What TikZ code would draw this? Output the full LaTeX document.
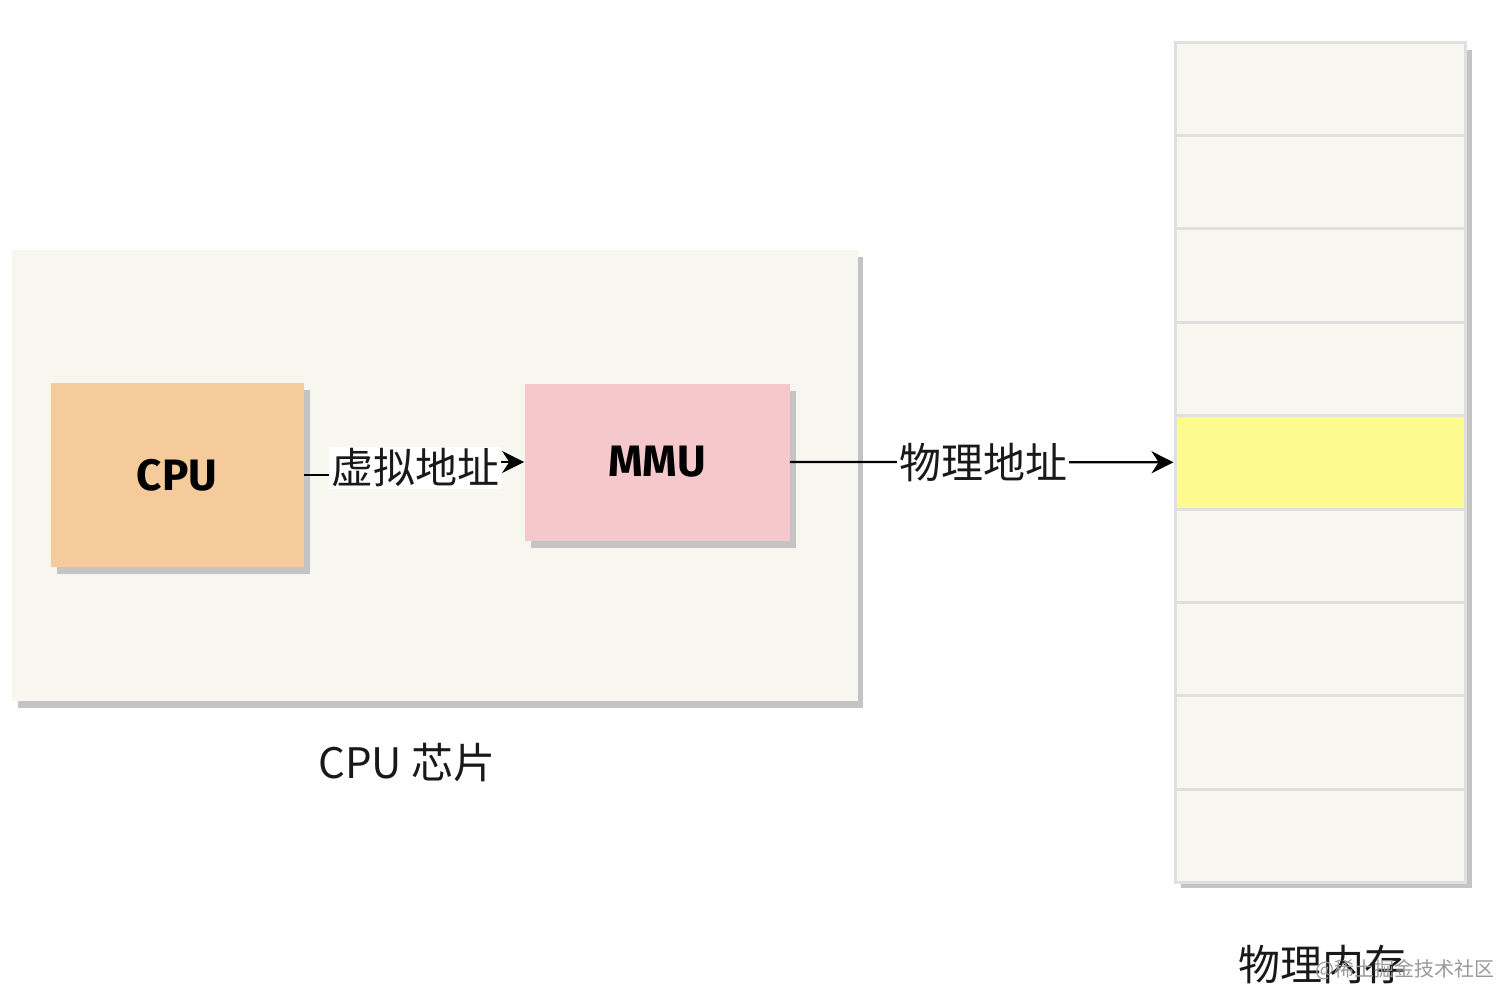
\documentclass[tikz,border=0pt]{standalone}
\usepackage{fontspec}
\setmainfont{Noto Sans CJK SC}
\newfontfamily\handfont{Fira Sans}
\usetikzlibrary{arrows.meta,shadows}
\definecolor{chipbg}{HTML}{F7F7F0}
\definecolor{cpubg}{HTML}{F5CB9C}
\definecolor{mmubg}{HTML}{F5C9CC}
\definecolor{yelbg}{HTML}{FDFB8F}
\definecolor{shadowgray}{HTML}{C4C4C4}
\definecolor{cellline}{HTML}{E0E0E0}
\begin{document}
\begin{tikzpicture}[x=0.5pt,y=-0.5pt,
  boxshadow/.style={drop shadow={shadow xshift=3pt,shadow yshift=-3.5pt,fill=shadowgray,opacity=1}},
  chipbox/.style={draw=none,fill=cpubg,inner sep=0pt,boxshadow},
  cell/.style={fill=chipbg,draw=cellline,line width=1.5pt,inner sep=0pt,minimum width=145pt,minimum height=46.7pt},
  hand/.style={font=\handfont\bfseries\fontsize{22}{26}\selectfont},
  cjk/.style={font=\fontsize{21}{25}\selectfont,text=black!90},
  lbl/.style={cjk,fill=white,inner sep=1pt},
  arr/.style={line width=1.1pt,-{Stealth[length=11pt,width=11pt]}}]
\useasboundingbox (0,0) rectangle (1512,1008);
\fill[white] (0,0) rectangle (1512,1008);
% chip background
\fill[shadowgray] (18,257) rectangle (863,708);
\fill[chipbg] (12,250) rectangle (858,701);
% CPU and MMU
\node[chipbox,fill=cpubg,minimum width=126.5pt,minimum height=92pt,hand] (cpu) at (177,475) {CPU};
\node[chipbox,fill=mmubg,minimum width=132.5pt,minimum height=78.5pt,hand] (mmu) at (657,462) {MMU};
% memory column
\fill[shadowgray] (1181,50) rectangle (1472,888);
\foreach \i in {0,...,8} {
  \node[cell] (m\i) at (1320,{42+46.7+93.4*\i}) {};
}
\node[cell,fill=yelbg,draw=cellline] (m4) at (1320,{42+46.7+93.4*4}) {};
% arrows
\coordinate (l1) at (415,468);
\draw[arr] (cpu.east) -| (l1) |- (mmu.west);
\node[lbl] (vlabel) at (l1) {虚拟地址};
\draw[arr] (mmu.east) -- (m4.west);
\node[lbl] (plabel) at (983,463) {物理地址};
% captions
\node[cjk] (chipcap) at (407,763) {CPU 芯片};
\node[cjk] (memcap) at (1322,965) {物理内存};
\node[font=\fontsize{10}{12}\selectfont,text=black!40] (wm) at (1405,970) {@稀土掘金技术社区};
\end{tikzpicture}
\end{document}
